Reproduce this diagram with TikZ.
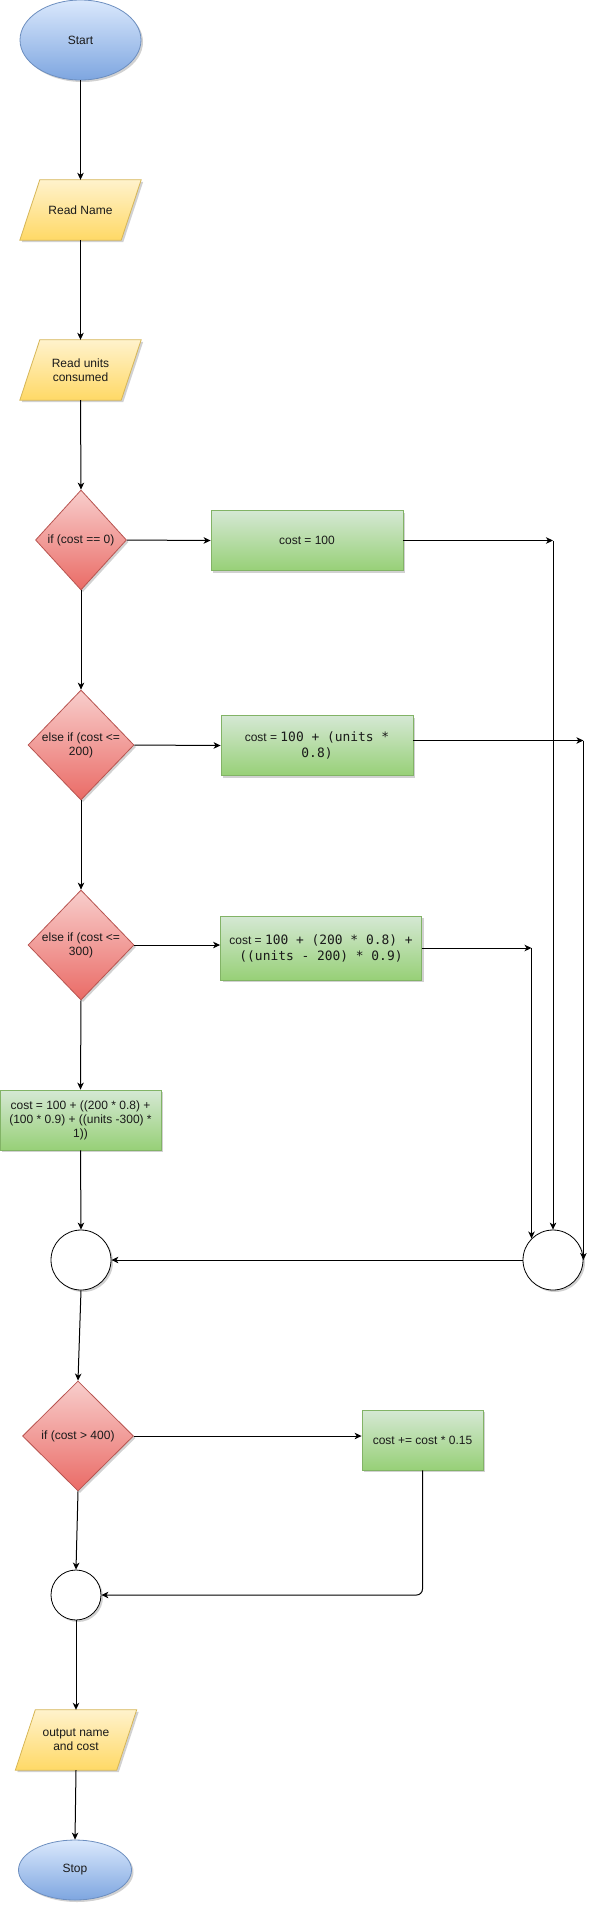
\documentclass[tikz,border=0pt]{standalone}
\usepackage{fontspec}
\setmainfont{Liberation Sans}
\newfontfamily\codefont[Scale=1.075]{DejaVu Sans Mono}
\usetikzlibrary{shapes.geometric,arrows.meta,shadows,calc}
\pgfdeclarelayer{bg}
\pgfsetlayers{bg,main}
\definecolor{termtop}{HTML}{DAE8FC}
\definecolor{termbot}{HTML}{7EA6E0}
\definecolor{termdraw}{HTML}{6C8EBF}
\definecolor{iotop}{HTML}{FFF2CC}
\definecolor{iobot}{HTML}{FFD966}
\definecolor{iodraw}{HTML}{D6B656}
\definecolor{dectop}{HTML}{F8CECC}
\definecolor{decbot}{HTML}{EA6B66}
\definecolor{decdraw}{HTML}{B85450}
\definecolor{proctop}{HTML}{D5E8D4}
\definecolor{procbot}{HTML}{97D077}
\definecolor{procdraw}{HTML}{82B366}
\definecolor{txtcol}{HTML}{1A1A1A}
\tikzset{
  shad/.style={drop shadow={shadow xshift=2pt, shadow yshift=-2pt, opacity=0.18, fill=black}},
  base/.style={inner sep=0pt, font=\fontsize{12}{14}\selectfont, text=txtcol, line width=0.8pt, shad},
  term/.style={base, ellipse, draw=termdraw, top color=termtop, bottom color=termbot},
  io/.style={inner sep=0pt, font=\fontsize{12}{14}\selectfont, text=txtcol, rectangle,
    minimum width=121pt, minimum height=60pt, align=center},
  iobody/.style={line width=0.8pt, draw=iodraw, top color=iotop, bottom color=iobot, shad},
  dec/.style={base, diamond, draw=decdraw, top color=dectop, bottom color=decbot},
  proc/.style={base, rectangle, draw=procdraw, top color=proctop, bottom color=procbot, align=center},
  junc/.style={circle, draw=black, fill=white, line width=0.8pt, inner sep=0pt, shad},
  conn/.style={draw=black, line width=1pt, -{Stealth[length=7pt,width=6.5pt,inset=2pt]}},
  every label/.style={font=\fontsize{12}{14}\selectfont, text=txtcol, align=center, inner sep=0pt},
}
\newcommand\iobg[1]{\begin{pgfonlayer}{bg}\path[iobody] (#1.south west) -- ($(#1.north west)+(20,0)$) -- (#1.north east) -- ($(#1.south east)+(-20,0)$) -- cycle;\end{pgfonlayer}}
\begin{document}
\begin{tikzpicture}[x=1pt,y=-1pt]
\useasboundingbox (0,0) rectangle (600,1912);
% nodes
\node[term, minimum width=121pt, minimum height=80pt] (start) at (80.5,40) {Start};
\node[io] (rn) at (80.5,210) {Read Name};
\iobg{rn}
\node[io] (ru) at (80.5,370) {Read units\\consumed};
\iobg{ru}
\node[dec, minimum width=91pt, minimum height=100pt, label={center:if (cost == 0)}] (d1) at (81,540) {};
\node[proc, minimum width=192pt, minimum height=60pt] (b1) at (307,540.5) {cost = 100};
\node[dec, minimum width=106pt, minimum height=110pt, label={center:else if (cost <=\\200)}] (d2) at (81,745) {};
\node[proc, minimum width=192pt, minimum height=60pt, font=\fontsize{12}{16}\selectfont] (b2) at (317,745.5)
  {cost = {\codefont 100 + (units *}\\{\codefont 0.8)}};
\node[dec, minimum width=106pt, minimum height=110pt, label={center:else if (cost <=\\300)}] (d3) at (81,945) {};
\node[proc, minimum width=201pt, minimum height=64pt, font=\fontsize{12}{16}\selectfont] (b3) at (321,948)
  {cost = {\codefont 100 + (200 * 0.8) +}\\{\codefont ((units - 200) * 0.9)}};
\node[proc, minimum width=161pt, minimum height=60pt] (b4) at (80.5,1120)
  {cost = 100 + ((200 * 0.8) +\\(100 * 0.9) + ((units -300) *\\1))};
\node[junc, minimum size=60pt] (cl) at (81,1260) {};
\node[junc, minimum size=60pt] (cr) at (553,1260) {};
\node[dec, minimum width=111pt, minimum height=110pt, label={center:if (cost > 400)}] (d5) at (78,1436) {};
\node[proc, minimum width=121pt, minimum height=60pt] (b5) at (422.5,1440) {cost += cost * 0.15};
\node[junc, minimum size=50pt] (c2) at (76,1595) {};
\node[io] (out) at (76,1740) {output name\\and cost};
\iobg{out}
\node[term, minimum width=113pt, minimum height=60pt] (stop) at (75,1870) {Stop};
% junction points
\coordinate (j1) at (cr.north |- b1.east);
\coordinate (j2) at ($(cr.east |- b2.east)+(0,-5)$);
\coordinate (j3) at (cr.north west |- b3.east);
% connectors
\draw[conn] (start.south) -- (rn.north);
\draw[conn] (rn.south) -- (ru.north);
\draw[conn] (ru.south) -- (d1.north);
\draw[conn] (d1.east) -- (b1.west);
\draw[conn] (b1.east) -- (j1);
\draw[conn] (j1) -- (cr.north);
\draw[conn] (d1.south) -- (d2.north);
\draw[conn] (d2.east) -- (b2.west);
\draw[conn] (b2.east |- j2) -- (j2);
\draw[conn] (j2) -- (cr.east);
\draw[conn] (d2.south) -- (d3.north);
\draw[conn] (d3.east) -- (d3.east -| b3.west);
\draw[conn] (b3.east) -- (j3);
\draw[conn] (j3) -- (cr.north west);
\draw[conn] (d3.south) -- (b4.north);
\draw[conn] (b4.south) -- (cl.north);
\draw[conn] (cr.west) -- (cl.east);
\draw[conn] (cl.south) -- (d5.north);
\draw[conn] (d5.east) -- (d5.east -| b5.west);
\draw[conn] (d5.south) -- (c2.north);
\draw[conn, rounded corners=6pt] (b5.south) |- (c2.east);
\draw[conn] (c2.south) -- (out.north);
\draw[conn] (out.south) -- (stop.north);
\end{tikzpicture}
\end{document}
